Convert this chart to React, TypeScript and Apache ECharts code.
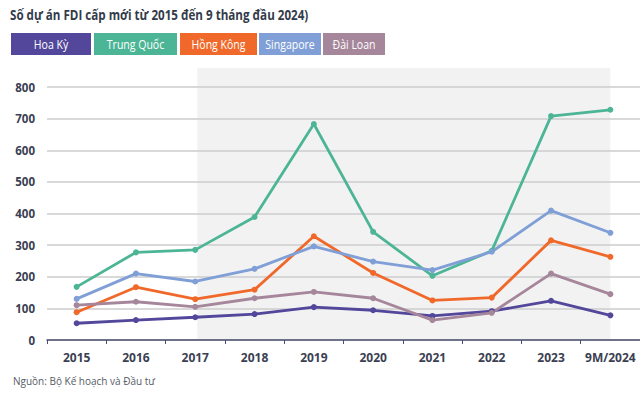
import React, { useEffect, useRef } from "react";
import * as echarts from "echarts";

const title = "Số dự án FDI cấp mới từ 2015 đến 9 tháng đầu 2024)";
const source = "Nguồn: Bộ Kế hoạch và Đầu tư";
const categories = ["2015", "2016", "2017", "2018", "2019", "2020", "2021", "2022", "2023", "9M/2024"];
const seriesNames = ["Hoa Kỳ", "Trung Quốc", "Hồng Kông", "Singapore", "Đài Loan"];
const hoaKy = [53, 63, 72, 82, 104, 94, 76, 91, 124, 78];
const trungQuoc = [168, 277, 285, 389, 683, 342, 203, 282, 708, 728];
const hongKong = [88, 167, 129, 159, 328, 212, 125, 134, 315, 263];
const singapore = [130, 210, 185, 225, 296, 248, 221, 279, 409, 339];
const daiLoan = [110, 121, 105, 132, 152, 132, 63, 86, 210, 145];
const seriesValues = [hoaKy, trungQuoc, hongKong, singapore, daiLoan];
const colors = ["#52479b", "#4cb595", "#f0692a", "#7f9fd6", "#a5869b"];
const legendBoxes = [
  { x: 11, w: 80 },
  { x: 94, w: 83 },
  { x: 180, w: 77 },
  { x: 259, w: 62 },
  { x: 323, w: 62 },
];
const shadeFrom = "2017";
const shadeTo = "9M/2024";

const FONT = "'Open Sans', 'Noto Sans', sans-serif";
const CONDENSE = 0.81;

export default function App() {
  const ref = useRef<HTMLDivElement>(null);
  useEffect(() => {
    if (!ref.current) return;
    const chart = echarts.init(ref.current, null, { renderer: "svg" });
    const legendGraphics = seriesNames.map((name, i) => ({
      type: "group",
      x: legendBoxes[i].x,
      y: 33,
      children: [
        {
          type: "rect",
          shape: { x: 0, y: 0, width: legendBoxes[i].w, height: 22 },
          style: { fill: colors[i] },
        },
        {
          type: "text",
          x: legendBoxes[i].w / 2,
          y: 11,
          scaleX: CONDENSE,
          style: {
            text: name,
            fill: "#ffffff",
            font: `13px ${FONT}`,
            align: "center",
            verticalAlign: "middle",
          },
        },
      ],
    }));
    const baseGraphics: any[] = [
      {
        type: "text",
        x: 10,
        y: 15,
        scaleX: 0.83,
        style: {
          text: title,
          fill: "#333b4a",
          font: `bold 14px ${FONT}`,
          align: "left",
          verticalAlign: "middle",
        },
      },
      ...legendGraphics,
      {
        type: "text",
        x: 13,
        y: 381,
        style: {
          text: source,
          fill: "#555b66",
          font: `10px ${FONT}`,
          align: "left",
          verticalAlign: "middle",
        },
      },
    ];
    const baseOption: any = {
      animation: false,
      backgroundColor: "#ffffff",
      textStyle: { fontFamily: FONT },
      grid: { left: 47, right: 0, top: 87, bottom: 53, containLabel: false },
      xAxis: {
        type: "category",
        data: categories,
        boundaryGap: true,
        axisLine: { lineStyle: { color: "#4a5070", width: 1.5 } },
        axisTick: { show: true, length: 4, lineStyle: { color: "#4a5070" } },
        axisLabel: {
          interval: 0,
          color: "#3a4052",
          fontWeight: "bold",
          fontSize: 12,
          margin: 11,
          fontFamily: FONT,
        },
      },
      yAxis: {
        type: "value",
        min: 0,
        max: 800,
        interval: 100,
        axisLine: { show: false },
        axisTick: { show: false },
        axisLabel: { color: "#3a4052", fontWeight: "bold", fontSize: 11.5, margin: 12, fontFamily: FONT },
        splitLine: { lineStyle: { color: "#cccccc", width: 1.5 } },
      },
      series: seriesNames.map((name, i) => ({
        name,
        type: "line",
        data: seriesValues[i],
        symbol: "circle",
        symbolSize: 6,
        lineStyle: { width: 2.8, color: colors[i] },
        itemStyle: { color: colors[i] },
        z: 3,
      })),
      graphic: baseGraphics,
    };
    chart.setOption(baseOption);
    const x0 = chart.convertToPixel({ xAxisIndex: 0 }, shadeFrom) as number;
    const x1 = chart.convertToPixel({ xAxisIndex: 0 }, shadeTo) as number;
    const yBottom = chart.convertToPixel({ yAxisIndex: 0 }, 0) as number;
    chart.setOption({
      graphic: [
        ...baseGraphics,
        {
          type: "rect",
          z: -10,
          silent: true,
          shape: { x: x0 + 2, y: 68, width: x1 - x0 - 2, height: yBottom - 68 },
          style: { fill: "#f2f2f2" },
        },
      ],
    });
    return () => chart.dispose();
  }, []);
  return <div ref={ref} style={{ width: 640, height: 393, position: "absolute", left: 0, top: 0 }} />;
}
